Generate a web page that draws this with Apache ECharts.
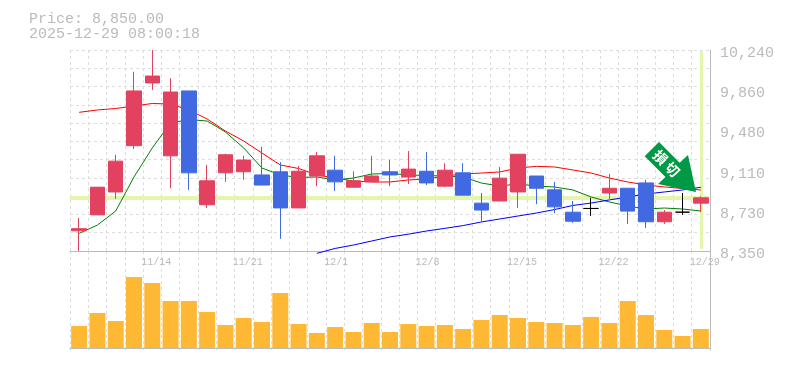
<!DOCTYPE html>
<html><head><meta charset="utf-8">
<style>html,body{margin:0;padding:0;background:#fff}#c{width:785px;height:370px}</style>
<script src="https://cdn.jsdelivr.net/npm/echarts@6/dist/echarts.min.js"></script>
</head><body><div id="c"></div>
<script>
const categories=["11/10","11/11","11/12","11/13","11/14","11/17","11/18","11/19","11/20","11/21","11/25","11/26","11/27","11/28","12/1","12/2","12/3","12/4","12/5","12/8","12/9","12/10","12/11","12/12","12/15","12/16","12/17","12/18","12/19","12/22","12/23","12/24","12/25","12/26","12/29"];
// open, close, low, high
const candles=[[8540,8560,8350,8660],[8690,8950,8690,8950],[8905,9195,8840,9255],[9340,9855,9310,10035],[9930,9995,9865,10240],[9245,9845,8940,9975],[9855,9085,8925,9855],[8785,9010,8755,9160],[9085,9255,9000,9265],[9095,9205,9020,9245],[9065,8970,8970,9330],[9095,8755,8465,9185],[8755,9100,8755,9150],[9055,9245,8960,9280],[9110,9000,8915,9245],[8950,9010,8950,9100],[9000,9055,9000,9245],[9095,9065,8960,9205],[9045,9120,8980,9290],[9100,8990,8970,9280],[8960,9110,8950,9175],[9085,8875,8875,9175],[8800,8735,8625,8895],[8820,9035,8820,9140],[8905,9260,8755,9260],[9055,8940,8790,9055],[8925,8765,8705,9000],[8715,8630,8615,8820],[8750,8750,8680,8850],[8895,8940,8840,9075],[8940,8725,8605,8940],[8990,8625,8565,9020],[8625,8715,8605,8735],[8715,8715,8690,8895],[8800,8850,8715,8865]];
const maShort=[8516,8594,8726,9046,9319,9554,9586,9572,9469,9319,9130,9065,9041,9046,9018,9036,9074,9079,9065,9060,9055,9046,8989,8961,8980,8961,8952,8924,8858,8811,8773,8745,8754,8745,8726];
const maMid=[9654,9676,9690,9713,9737,9732,9676,9591,9478,9384,9271,9159,9126,9065,9036,9008,8999,8999,9018,9027,9055,9074,9083,9093,9130,9146,9140,9112,9083,9036,8999,8971,8952,8938,8924];
const maLong=[null,null,null,null,null,null,null,null,null,null,null,null,null,8328,8374,8406,8444,8482,8508,8538,8563,8589,8623,8651,8679,8707,8740,8778,8801,8830,8858,8886,8905,8924,8949];
const volumes=[66,105,81,213,195,141,141,108,69,90,78,165,72,45,63,48,75,48,72,66,69,57,84,99,90,78,75,69,93,75,141,99,54,36,57];
const priceTicks=["8,350","8,730","9,110","9,480","9,860","10,240"];
const priceText="Price: 8,850.00";
const timeText="2025-12-29 08:00:18";
const lastPrice=8850;

const mono='"Liberation Mono","DejaVu Sans Mono",monospace';
const dash={color:'#ddd',width:1,type:[3,3]};
const edge={show:true,lineStyle:{color:'#bbb',width:1}};
const band='#E3F6AC';
const xCommon={type:'category',data:categories,boundaryGap:true,axisTick:{show:false},
  splitLine:{show:true,interval:0,lineStyle:dash}};
const chart=echarts.init(document.getElementById('c'),null,{renderer:'canvas'});
chart.setOption({
  animation:false,backgroundColor:'#fff',
  title:{text:priceText+'\n'+timeText,left:29,top:12,padding:0,
    textStyle:{fontFamily:mono,fontSize:15,lineHeight:15,fontWeight:'normal',color:'#bbb'}},
  grid:[{left:70,right:75,top:50,height:201},{left:70,right:75,top:251,height:99}],
  xAxis:[
    Object.assign({},xCommon,{gridIndex:0,axisLine:edge,
      axisLabel:{interval:i=>i%5===4,align:'left',padding:[0,0,0,-11],margin:6,fontFamily:mono,fontSize:10,color:'#bbb'}}),
    Object.assign({},xCommon,{gridIndex:1,axisLine:edge,axisLabel:{show:false}})
  ],
  yAxis:[
    {type:'value',gridIndex:0,min:8350,max:10240,position:'right',show:false,scale:true},
    {type:'value',gridIndex:0,min:0,max:5,interval:1,position:'right',
      axisLine:edge,axisTick:{show:false},splitLine:{show:false},
      axisLabel:{margin:10,verticalAlign:'top',lineHeight:6,fontFamily:mono,fontSize:15,color:'#bbb',formatter:v=>priceTicks[v]}},
    {type:'value',gridIndex:0,min:0,max:11,interval:1,position:'right',axisLine:{show:false},axisTick:{show:false},
      axisLabel:{show:false},splitLine:{show:true,lineStyle:dash}},
    {type:'value',gridIndex:1,min:-6,max:291,position:'right',axisLine:edge,axisTick:{show:false},
      axisLabel:{show:false},splitLine:{show:false}}
  ],
  series:[
    {type:'line',xAxisIndex:0,yAxisIndex:0,data:[],z:1,markLine:{z:1,silent:true,symbol:'none',label:{show:false},animation:false,
      data:[
        [{coord:[categories[0],lastPrice],x:70,lineStyle:{color:band,width:4,type:'solid'}},{coord:[categories[34],lastPrice],x:709}],
        [{coord:[categories[34],10230],lineStyle:{color:band,width:3,type:'solid'}},{coord:[categories[34],8370]}]
      ]}},
    {type:'line',name:'mid',xAxisIndex:0,yAxisIndex:0,data:maMid,symbol:'none',clip:false,lineStyle:{color:'#f00',width:1},z:2},
    {type:'line',name:'short',xAxisIndex:0,yAxisIndex:0,data:maShort,symbol:'none',lineStyle:{color:'#008000',width:1},z:2},
    {type:'line',name:'long',xAxisIndex:0,yAxisIndex:0,data:maLong,symbol:'none',clip:false,lineStyle:{color:'#00f',width:1},z:2},
    {type:'candlestick',xAxisIndex:0,yAxisIndex:0,data:candles,barWidth:15,z:3,
      itemStyle:{color:'#E2425F',color0:'#4169E1',borderColor:'#E2425F',borderColor0:'#4169E1',borderColorDoji:'#000',borderWidth:1}},
    {type:'bar',xAxisIndex:1,yAxisIndex:3,data:volumes,barWidth:16,itemStyle:{color:'#FFB833'},z:2}
  ],
  graphic:[
    {type:'polygon',z:100,silent:true,shape:{points:[[659,142],[679.7,162.7],[688,155],[696,192],[658,184],[665.5,177],[644.7,156.3]]},style:{fill:'#009944'}},
    {type:'text',z:101,silent:true,x:660.5,y:157.5,rotation:-Math.PI/4,style:{text:'損',fill:'#fff',font:'bold 14px "Noto Sans CJK JP"',textAlign:'center',textVerticalAlign:'middle'}},
    {type:'text',z:101,silent:true,x:672.5,y:169.5,rotation:-Math.PI/4,style:{text:'切',fill:'#fff',font:'bold 14px "Noto Sans CJK JP"',textAlign:'center',textVerticalAlign:'middle'}}
  ]
});
</script></body></html>
